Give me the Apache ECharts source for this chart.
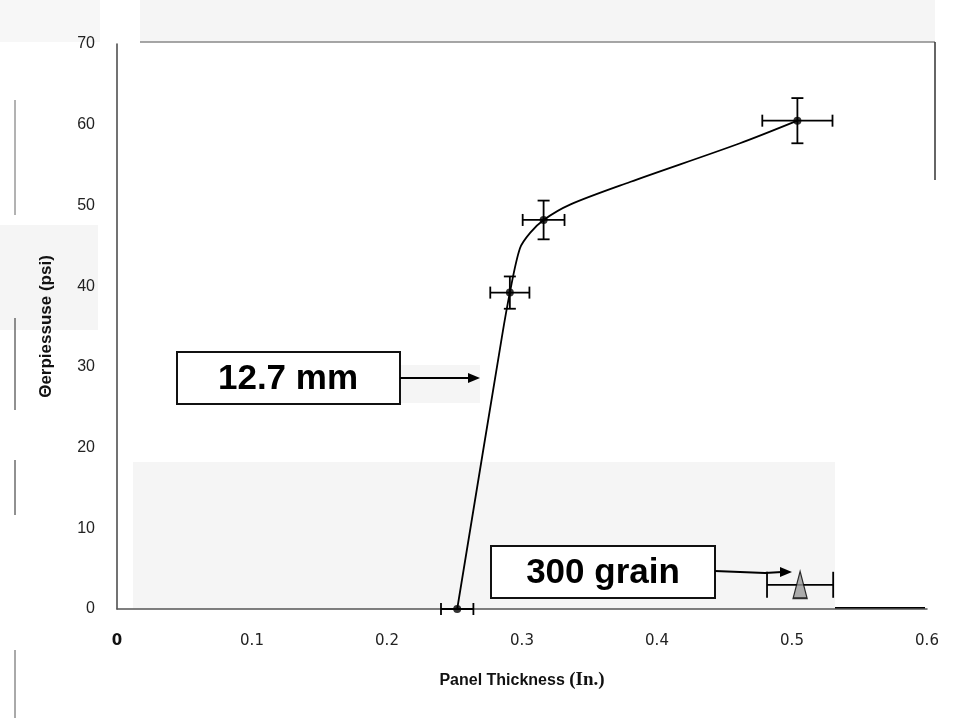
<!DOCTYPE html>
<html>
<head>
<meta charset="utf-8">
<script src="https://cdn.jsdelivr.net/npm/echarts@6/dist/echarts.min.js"></script>
<style>html,body{margin:0;padding:0;background:#fff}#c{width:960px;height:718px}</style>
</head>
<body>
<div id="c"></div>
<script>
// Measured points (x in inches, y in psi) with error bars
var ptX = [0.252, 0.291, 0.316, 0.504];
var ptY = [0, 39.2, 48.2, 60.5];
var ptXErr = [0.012, 0.0145, 0.0155, 0.026];
var ptYErr = [0, 2.0, 2.4, 2.8];
// 300 grain point
var triX = [0.506];
var triY = [3.0];
var triXErr = [0.0245];
// Trend curve
var curveX = [0.252, 0.285, 0.291, 0.2985, 0.306, 0.316, 0.3356, 0.38, 0.4615, 0.504];
var curveY = [0, 33.6, 39.2, 44.7, 46.6, 48.2, 50.1, 52.9, 57.7, 60.5];
// Axis ticks
var xTicks = [0, 0.1, 0.2, 0.3, 0.4, 0.5, 0.6];
var yTicks = [0, 10, 20, 30, 40, 50, 60, 70];

var chart = echarts.init(document.getElementById('c'));

function errData(xs, ys, xe, ye, cap) {
  return xs.map(function (x, i) { return [x, ys[i], xe[i], ye[i], cap]; });
}

function renderErr(params, api) {
  var x = api.value(0), y = api.value(1), xe = api.value(2), ye = api.value(3), cap = api.value(4);
  var c = api.coord([x, y]);
  var l = api.coord([x - xe, y]), r = api.coord([x + xe, y]);
  var t = api.coord([x, y + ye]), b = api.coord([x, y - ye]);
  var st = { stroke: '#000', lineWidth: 1.8, fill: null };
  var ch = [];
  if (xe > 0) {
    ch.push({ type: 'line', shape: { x1: l[0], y1: c[1], x2: r[0], y2: c[1] }, style: st });
    ch.push({ type: 'line', shape: { x1: l[0], y1: c[1] - cap, x2: l[0], y2: c[1] + cap }, style: st });
    ch.push({ type: 'line', shape: { x1: r[0], y1: c[1] - cap, x2: r[0], y2: c[1] + cap }, style: st });
  }
  if (ye > 0) {
    ch.push({ type: 'line', shape: { x1: c[0], y1: t[1], x2: c[0], y2: b[1] }, style: st });
    ch.push({ type: 'line', shape: { x1: c[0] - 6, y1: t[1], x2: c[0] + 6, y2: t[1] }, style: st });
    ch.push({ type: 'line', shape: { x1: c[0] - 6, y1: b[1], x2: c[0] + 6, y2: b[1] }, style: st });
  }
  return { type: 'group', children: ch };
}

var option = {
  backgroundColor: '#fff',
  animation: false,
  grid: { left: 117, right: 33, top: 44, bottom: 109 },
  xAxis: {
    type: 'value', min: 0, max: 0.6, interval: 0.1,
    axisLine: { show: true, lineStyle: { color: '#555', width: 1.5 } },
    axisTick: { show: false },
    splitLine: { show: false },
    axisLabel: {
      margin: 25, fontSize: 15, color: '#222', fontFamily: 'DejaVu Sans',
      formatter: function (v) { var r = Math.round(v * 10) / 10; return xTicks.indexOf(r) >= 0 ? (r === 0 ? '{z|0}' : String(r)) : ''; },
      rich: { z: { fontSize: 15, fontWeight: 'bold', color: '#111', fontFamily: 'DejaVu Sans' } }
    },
    name: '{a|Panel Thickness }{b|(In.)}',
    nameLocation: 'middle', nameGap: 62,
    nameTextStyle: {
      rich: {
        a: { fontSize: 16, fontWeight: 'bold', color: '#111', fontFamily: 'Liberation Sans' },
        b: { fontSize: 19, fontWeight: 'bold', color: '#111', fontFamily: 'Liberation Serif' }
      }
    }
  },
  yAxis: {
    type: 'value', min: 0, max: 70, interval: 10,
    axisLine: { show: true, lineStyle: { color: '#444', width: 1.5 } },
    axisTick: { show: false },
    splitLine: { show: false },
    axisLabel: { margin: 22, fontSize: 16, color: '#222', fontFamily: 'Liberation Sans',
      formatter: function (v) { return yTicks.indexOf(v) >= 0 ? String(v) : ''; } },
    name: 'Θerpiessuse (psi)',
    nameLocation: 'middle', nameGap: 62, nameRotate: 90,
    nameTextStyle: { fontSize: 17, fontWeight: 'bold', color: '#111', fontFamily: 'Liberation Sans' }
  },
  graphic: [
    { type: 'rect', z: -10, silent: true, shape: { x: 140, y: 0, width: 795, height: 42 }, style: { fill: '#f5f5f5' } },
    { type: 'rect', z: -10, silent: true, shape: { x: 133, y: 462, width: 702, height: 147 }, style: { fill: '#f5f5f5' } },
    { type: 'rect', z: -10, silent: true, shape: { x: 0, y: 0, width: 100, height: 42 }, style: { fill: '#f7f7f7' } },
    { type: 'rect', z: -10, silent: true, shape: { x: 0, y: 225, width: 98, height: 105 }, style: { fill: '#f5f5f5' } },
    { type: 'rect', z: -10, silent: true, shape: { x: 400, y: 365, width: 80, height: 38 }, style: { fill: '#f5f5f5' } },
    { type: 'line', silent: true, shape: { x1: 140, y1: 42, x2: 935, y2: 42 }, style: { stroke: '#888', lineWidth: 1.5 } },
    { type: 'line', silent: true, shape: { x1: 935, y1: 42, x2: 935, y2: 180 }, style: { stroke: '#333', lineWidth: 1.5 } },
    { type: 'line', silent: true, shape: { x1: 835, y1: 608, x2: 925, y2: 608 }, style: { stroke: '#000', lineWidth: 2 } },
    { type: 'line', silent: true, shape: { x1: 15, y1: 100, x2: 15, y2: 215 }, style: { stroke: '#666', lineWidth: 1 } },
    { type: 'line', silent: true, shape: { x1: 15, y1: 318, x2: 15, y2: 410 }, style: { stroke: '#222', lineWidth: 1 } },
    { type: 'line', silent: true, shape: { x1: 15, y1: 460, x2: 15, y2: 515 }, style: { stroke: '#222', lineWidth: 1 } },
    { type: 'line', silent: true, shape: { x1: 15, y1: 650, x2: 15, y2: 718 }, style: { stroke: '#555', lineWidth: 1 } },
    // 12.7 mm annotation
    { type: 'rect', shape: { x: 177, y: 352, width: 223, height: 52 }, style: { fill: '#fff', stroke: '#111', lineWidth: 2 } },
    { type: 'text', style: { text: '12.7 mm', x: 288, y: 379, align: 'center', verticalAlign: 'middle', font: 'bold 35px "Liberation Sans"', fill: '#000' } },
    { type: 'line', shape: { x1: 400, y1: 378, x2: 470, y2: 378 }, style: { stroke: '#000', lineWidth: 2 } },
    { type: 'polygon', shape: { points: [[480, 378], [468, 373], [468, 383]] }, style: { fill: '#000' } },
    // 300 grain annotation
    { type: 'rect', shape: { x: 491, y: 546, width: 224, height: 52 }, style: { fill: '#fff', stroke: '#111', lineWidth: 2 } },
    { type: 'text', style: { text: '300 grain', x: 603, y: 573, align: 'center', verticalAlign: 'middle', font: 'bold 35px "Liberation Sans"', fill: '#000' } },
    { type: 'polyline', shape: { points: [[715, 571], [765, 573], [782, 572]] }, style: { stroke: '#000', lineWidth: 2 } },
    { type: 'polygon', shape: { points: [[792, 572], [780, 567], [780, 577]] }, style: { fill: '#000' } }
  ],
  series: [
    {
      type: 'line', data: curveX.map(function (x, i) { return [x, curveY[i]]; }),
      smooth: 0.3, showSymbol: false, lineStyle: { color: '#000', width: 1.8 }, z: 3
    },
    {
      type: 'custom', renderItem: renderErr, data: errData(ptX, ptY, ptXErr, ptYErr, 6), z: 4
    },
    {
      type: 'custom', renderItem: renderErr, data: errData(triX, triY, triXErr, [0], 13), z: 4
    },
    {
      type: 'scatter', data: ptX.map(function (x, i) { return [x, ptY[i]]; }),
      symbol: 'circle', symbolSize: 8, itemStyle: { color: '#000' }, z: 5
    },
    {
      type: 'scatter', data: triX.map(function (x, i) { return [x, triY[i]]; }),
      symbol: 'triangle', symbolSize: [14, 27], itemStyle: { color: '#999', borderColor: '#000', borderWidth: 1.5 }, z: 5
    }
  ]
};
chart.setOption(option);
</script>
</body>
</html>
